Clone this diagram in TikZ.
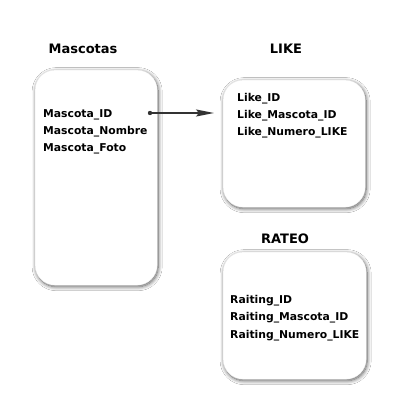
\documentclass[tikz,border=0pt]{standalone}
\usepackage{fontspec}
\setmainfont{DejaVu Sans}
\usetikzlibrary{shadows.blur,arrows.meta}
\begin{document}
\begin{tikzpicture}[x=1pt,y=-1pt,
  tablebox/.style={draw=black!6, line width=0.3pt, fill=white, rounded corners=20pt, minimum width=#1, inner sep=0pt,
    blur shadow={shadow xshift=1pt, shadow yshift=-1.5pt, shadow blur radius=4pt, shadow opacity=65, shadow blur steps=12}},
  title/.style={font=\bfseries\fontsize{13}{15}\selectfont, inner sep=0pt},
  field/.style={font=\bfseries\fontsize{10.8}{13}\selectfont, anchor=west, inner sep=0pt},
  link/.style={draw=black!80, line width=1.4pt, -{Stealth[length=18pt, width=7pt, inset=3pt]}}]
\useasboundingbox (0,0) rectangle (414,414);
\fill[white] (0,0) rectangle (414,414);
% boxes
\node[tablebox=122pt, minimum height=215pt, anchor=north west] (masc) at (35,70) {};
\node[tablebox=142pt, minimum height=127pt, anchor=north west] (like) at (223,80) {};
\node[tablebox=143pt, minimum height=127pt, anchor=north west] (rateo) at (223,252) {};
% titles
\node[title] (tmasc) at (83,49) {Mascotas};
\node[title] (tlike) at (286,49) {LIKE};
\node[title] (trateo) at (285,239) {RATEO};
% fields
\node[field] (m1) at (43,114.5) {Mascota\_ID};
\node[field] (m2) at (43,131.5) {Mascota\_Nombre};
\node[field] (m3) at (43,148.5) {Mascota\_Foto};
\node[field] (l1) at (237,98.5) {Like\_ID};
\node[field] (l2) at (237,115.5) {Like\_Mascota\_ID};
\node[field] (l3) at (237,132.5) {Like\_Numero\_LIKE};
\node[field] (r1) at (230,300.5) {Raiting\_ID};
\node[field] (r2) at (230,317.5) {Raiting\_Mascota\_ID};
\node[field] (r3) at (230,335.5) {Raiting\_Numero\_LIKE};
% connector
\coordinate (dot) at (150,113);
\coordinate (tip) at (214,113);
\fill[black!80] (dot) circle (2.2pt);
\draw[link] (dot) -- (tip);
\end{tikzpicture}
\end{document}
